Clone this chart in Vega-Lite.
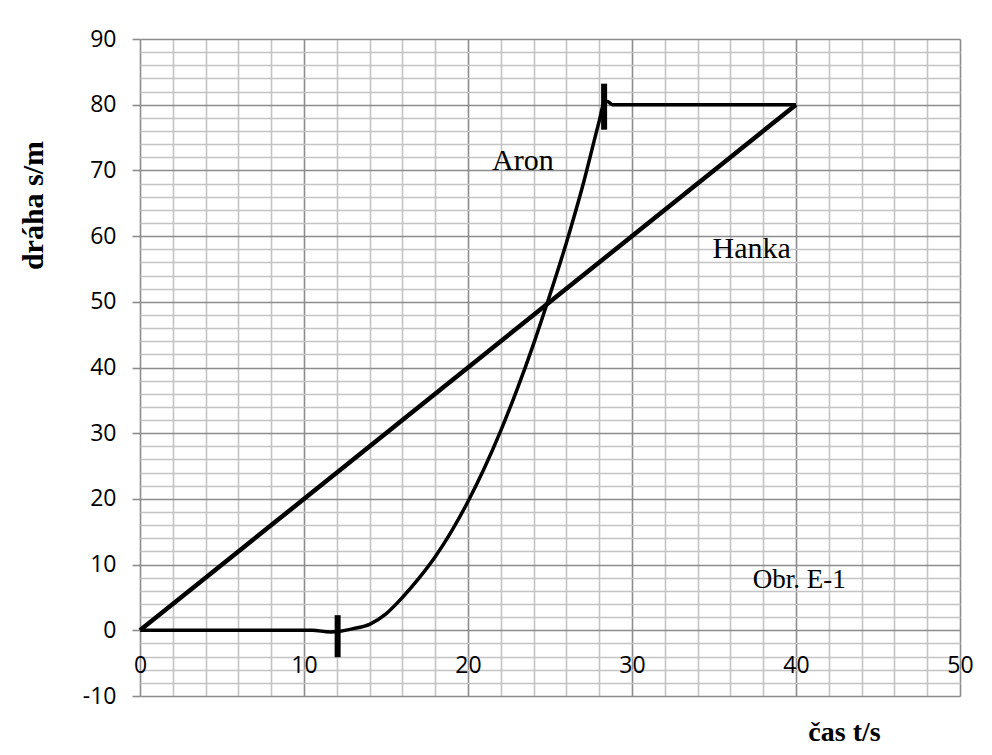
{
  "$schema": "https://vega.github.io/schema/vega-lite/v6.json",
  "autosize": {"type": "none"},
  "width": 820,
  "height": 657,
  "padding": {"left": 140, "top": 39, "right": 32, "bottom": 59},
  "background": "white",
  "config": {"view": {"stroke": null}},
  "datasets": {
    "lines": [
      {"series": "Hanka", "t": 0, "s": 0},
      {"series": "Hanka", "t": 40, "s": 80},
      {"series": "Aron", "t": 0, "s": 0},
      {"series": "Aron", "t": 6, "s": 0},
      {"series": "Aron", "t": 10.5, "s": 0},
      {"series": "Aron", "t": 11.6, "s": -0.25},
      {"series": "Aron", "t": 12.3, "s": -0.1},
      {"series": "Aron", "t": 13, "s": 0.25},
      {"series": "Aron", "t": 14, "s": 0.9},
      {"series": "Aron", "t": 15, "s": 2.5},
      {"series": "Aron", "t": 16, "s": 5.0},
      {"series": "Aron", "t": 17, "s": 7.9},
      {"series": "Aron", "t": 18, "s": 11.2},
      {"series": "Aron", "t": 19, "s": 15.1},
      {"series": "Aron", "t": 20, "s": 19.6},
      {"series": "Aron", "t": 21, "s": 24.7},
      {"series": "Aron", "t": 22, "s": 30.4},
      {"series": "Aron", "t": 23, "s": 36.7},
      {"series": "Aron", "t": 24, "s": 43.6},
      {"series": "Aron", "t": 25, "s": 51.1},
      {"series": "Aron", "t": 26, "s": 59.0},
      {"series": "Aron", "t": 27, "s": 67.7},
      {"series": "Aron", "t": 28, "s": 77.5},
      {"series": "Aron", "t": 28.3, "s": 80.3},
      {"series": "Aron", "t": 28.5, "s": 80.5},
      {"series": "Aron", "t": 28.8, "s": 80},
      {"series": "Aron", "t": 40, "s": 80}
    ],
    "bars": [
      {"t": 12.05, "s1": -4.1, "s2": 2.3},
      {"t": 28.3, "s1": 76.2, "s2": 83.2}
    ],
    "labels": [
      {"t": 23.35, "s": 70.0, "text": "Aron", "kind": "name"},
      {"t": 37.3, "s": 56.6, "text": "Hanka", "kind": "name"},
      {"t": 40.2, "s": 6.4, "text": "Obr. E-1", "kind": "fig"}
    ]
  },
  "layer": [
    {
      "data": {"name": "lines"},
      "transform": [{"filter": "datum.series === 'Hanka'"}],
      "mark": {"type": "line", "color": "black", "strokeWidth": 4.5},
      "encoding": {
        "x": {
          "field": "t", "type": "quantitative",
          "scale": {"domain": [0, 50], "nice": false, "zero": false},
          "axis": {
            "orient": "bottom",
            "offset": -31,
            "tickCount": 200,
            "values": [0,2,4,6,8,10,12,14,16,18,20,22,24,26,28,30,32,34,36,38,40,42,44,46,48,50],
            "labelExpr": "datum.value % 10 === 0 ? '' + datum.value : ''",
            "labelFont": "Open Sans",
            "labelFontSize": 23,
            "labelColor": "black",
            "labelPadding": 0,
            "labelBaseline": "middle",
            "labelFlush": false,
            "labelOverlap": false,
            "ticks": false,
            "domain": false,
            "grid": true,
            "gridColor": {"condition": {"test": "datum.value % 10 === 0", "value": "#8c8c8c"}, "value": "#c4c4c4"},
            "gridWidth": 1.6,
            "title": "čas t/s",
            "titleFont": "Liberation Serif",
            "titleFontWeight": "bold",
            "titleFontSize": 28,
            "titleColor": "black",
            "titleX": 704,
            "titleY": 75,
            "titleAlign": "center",
            "titleBaseline": "alphabetic"
          }
        },
        "y": {
          "field": "s", "type": "quantitative",
          "scale": {"domain": [-10, 90], "nice": false, "zero": false},
          "axis": {
            "tickCount": 200,
            "values": [-10,-8,-6,-4,-2,0,2,4,6,8,10,12,14,16,18,20,22,24,26,28,30,32,34,36,38,40,42,44,46,48,50,52,54,56,58,60,62,64,66,68,70,72,74,76,78,80,82,84,86,88,90],
            "labelExpr": "datum.value % 10 === 0 ? '' + datum.value : ''",
            "labelFont": "Open Sans",
            "labelFontSize": 23,
            "labelColor": "black",
            "labelPadding": 16,
            "labelFlush": false,
            "labelOverlap": false,
            "tickSize": 8,
            "tickWidth": 1.6,
            "tickColor": {"condition": {"test": "datum.value % 10 === 0", "value": "#8c8c8c"}, "value": "transparent"},
            "domain": false,
            "grid": true,
            "gridColor": {"condition": {"test": "datum.value % 10 === 0", "value": "#8c8c8c"}, "value": "#c4c4c4"},
            "gridWidth": 1.6,
            "title": "dráha s/m",
            "titleFont": "Liberation Serif",
            "titleFontWeight": "bold",
            "titleFontSize": 30,
            "titleColor": "black",
            "titleAngle": -90,
            "titleX": -98,
            "titleY": 166,
            "titleAlign": "center",
            "titleBaseline": "alphabetic"
          }
        }
      }
    },
    {
      "data": {"name": "lines"},
      "transform": [{"filter": "datum.series === 'Aron'"}],
      "mark": {"type": "line", "color": "black", "strokeWidth": 3.5, "interpolate": "monotone"},
      "encoding": {
        "x": {"field": "t", "type": "quantitative"},
        "y": {"field": "s", "type": "quantitative"}
      }
    },
    {
      "data": {"name": "bars"},
      "mark": {"type": "rule", "color": "black", "strokeWidth": 6},
      "encoding": {
        "x": {"field": "t", "type": "quantitative"},
        "y": {"field": "s1", "type": "quantitative"},
        "y2": {"field": "s2"}
      }
    },
    {
      "data": {"name": "labels"},
      "mark": {"type": "text", "font": "Liberation Serif", "color": "black", "align": "center", "baseline": "alphabetic"},
      "encoding": {
        "x": {"field": "t", "type": "quantitative"},
        "y": {"field": "s", "type": "quantitative"},
        "text": {"field": "text"},
        "size": {"field": "kind", "type": "nominal", "scale": {"domain": ["name", "fig"], "range": [30, 27]}, "legend": null}
      }
    }
  ]
}
